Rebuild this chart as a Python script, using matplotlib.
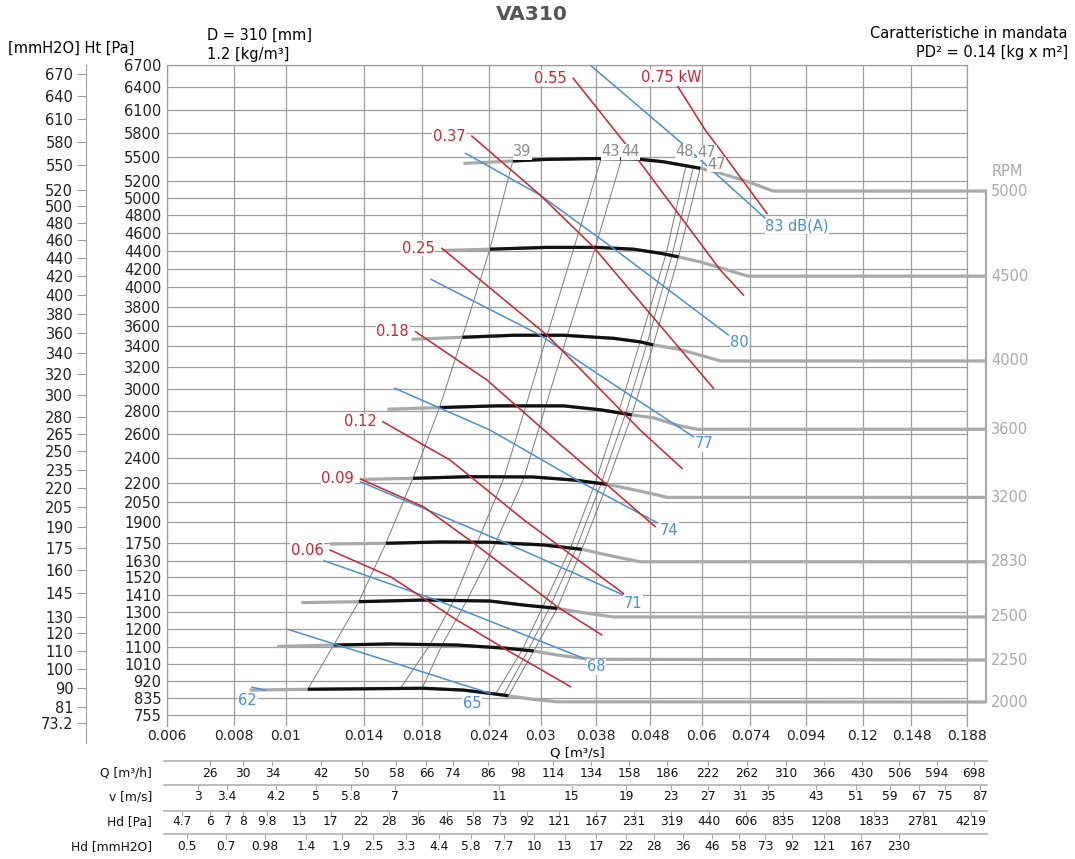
import numpy as np
import matplotlib.pyplot as plt
from matplotlib.ticker import FixedLocator, FixedFormatter, NullLocator
from matplotlib.transforms import blended_transform_factory

plt.rcParams['font.family'] = ['DejaVu Sans']

W, H = 1075, 859

# axis ticks
q_ticks = [0.006, 0.008, 0.01, 0.014, 0.018, 0.024, 0.03, 0.038, 0.048,
           0.06, 0.074, 0.094, 0.12, 0.148, 0.188]
q_tick_labels = ['0.006', '0.008', '0.01', '0.014', '0.018', '0.024', '0.03',
                 '0.038', '0.048', '0.06', '0.074', '0.094', '0.12', '0.148', '0.188']
ht_ticks = [6700, 6400, 6100, 5800, 5500, 5200, 5000, 4800, 4600, 4400, 4200,
            4000, 3800, 3600, 3400, 3200, 3000, 2800, 2600, 2400, 2200, 2050,
            1900, 1750, 1630, 1520, 1410, 1300, 1200, 1100, 1010, 920, 835, 755]
mm_ticks = [670, 640, 610, 580, 550, 520, 500, 480, 460, 440, 420, 400, 380,
            360, 340, 320, 300, 280, 265, 250, 235, 220, 205, 190, 175, 160,
            145, 130, 120, 110, 100, 90, 81, 73.2]

# fan curves: Q [m3/s], Ht [Pa]; black (working) part from index 1 to i_end
q_2000 = [0.00857, 0.0110, 0.0181, 0.0215, 0.0241, 0.0261, 0.0290, 0.0322, 0.204]
h_2000 = [874, 878, 883, 874, 858, 846, 829, 817, 816]
q_2250 = [0.00964, 0.0123, 0.0157, 0.0209, 0.0259, 0.0291, 0.0322, 0.0371, 0.204]
h_2250 = [1103, 1111, 1117, 1111, 1093, 1078, 1056, 1033, 1029]
q_2500 = [0.0107, 0.0137, 0.0181, 0.0241, 0.0279, 0.0322, 0.0356, 0.0410, 0.204]
h_2500 = [1360, 1366, 1376, 1370, 1345, 1325, 1301, 1273, 1273]
q_2830 = [0.0121, 0.0154, 0.0195, 0.0241, 0.0304, 0.0358, 0.0399, 0.0460, 0.204]
h_2830 = [1746, 1751, 1760, 1758, 1739, 1709, 1670, 1624, 1624]
q_3200 = [0.0139, 0.0173, 0.0219, 0.0290, 0.0345, 0.0399, 0.0435, 0.0481, 0.0517, 0.204]
h_3200 = [2227, 2235, 2248, 2246, 2222, 2188, 2157, 2118, 2087, 2087]
q_3600 = [0.0155, 0.0194, 0.0248, 0.0331, 0.0388, 0.0444, 0.0487, 0.0540, 0.0588, 0.204]
h_3600 = [2815, 2830, 2845, 2845, 2810, 2765, 2740, 2675, 2640, 2640]
q_4000 = [0.0172, 0.0214, 0.0267, 0.0331, 0.0410, 0.0460, 0.0487, 0.0547, 0.0596, 0.0650, 0.204]
h_4000 = [3470, 3490, 3510, 3510, 3480, 3445, 3415, 3370, 3315, 3260, 3260]
q_4500 = [0.0196, 0.0241, 0.0308, 0.0382, 0.0447, 0.0502, 0.0543, 0.0596, 0.0650, 0.0733, 0.204]
h_4500 = [4400, 4415, 4435, 4435, 4415, 4370, 4330, 4275, 4210, 4120, 4120]
q_5000 = [0.0215, 0.0266, 0.0308, 0.0382, 0.0454, 0.0509, 0.0596, 0.0650, 0.0730, 0.0816, 0.204]
h_5000 = [5420, 5450, 5470, 5480, 5475, 5440, 5360, 5300, 5200, 5085, 5085]

curves = {2000: (q_2000, h_2000, 5), 2250: (q_2250, h_2250, 5),
          2500: (q_2500, h_2500, 5), 2830: (q_2830, h_2830, 5),
          3200: (q_3200, h_3200, 5), 3600: (q_3600, h_3600, 5),
          4000: (q_4000, h_4000, 6), 4500: (q_4500, h_4500, 6),
          5000: (q_5000, h_5000, 6)}

# efficiency lines
eff_labels = ['39', '43', '44', '48', '47', '47']
eff_q = [[0.0110, 0.0123, 0.0137, 0.0154, 0.0173, 0.0194, 0.0214, 0.0241, 0.0266],
         [0.0164, 0.0186, 0.0206, 0.0228, 0.0256, 0.0281, 0.0308, 0.0346, 0.0389],
         [0.0180, 0.0196, 0.0218, 0.0247, 0.0279, 0.0306, 0.0336, 0.0379, 0.0425],
         [0.0247, 0.0277, 0.0303, 0.0341, 0.0379, 0.0419, 0.0460, 0.0515, 0.0561],
         [0.0256, 0.0284, 0.0312, 0.0349, 0.0389, 0.0432, 0.0474, 0.0528, 0.0579],
         [0.0261, 0.0291, 0.0322, 0.0358, 0.0399, 0.0444, 0.0487, 0.0543, 0.0596]]
eff_h = [[878, 1111, 1366, 1751, 2235, 2832, 3490, 4417, 5453],
         [883, 1111, 1370, 1753, 2238, 2835, 3503, 4428, 5478],
         [883, 1111, 1370, 1753, 2238, 2835, 3503, 4428, 5478],
         [855, 1084, 1339, 1718, 2198, 2782, 3443, 4372, 5400],
         [852, 1081, 1333, 1711, 2194, 2773, 3429, 4350, 5379],
         [846, 1078, 1325, 1709, 2188, 2765, 3415, 4332, 5360]]

# noise lines dB(A)
db_labels = ['62', '65', '68', '71', '74', '77', '80', '83 dB(A)']
db_q = [[0.00865, 0.00916],
        [0.0101, 0.0157, 0.0241],
        [0.0118, 0.0195, 0.0361],
        [0.0138, 0.0259, 0.0428],
        [0.0160, 0.0241, 0.0356, 0.0495],
        [0.0187, 0.0299, 0.0399, 0.0579],
        [0.0217, 0.0299, 0.0410, 0.0673],
        [0.0371, 0.0551, 0.0789]]
db_h = [[888, 874],
        [1200, 1020, 858],
        [1631, 1366, 1038],
        [2208, 1751, 1408],
        [3004, 2634, 2206, 1898],
        [4086, 3512, 3080, 2576],
        [5545, 5038, 4425, 3512],
        [6700, 5670, 4765]]

# absorbed power lines kW
kw_labels = ['0.06', '0.09', '0.12', '0.18', '0.25', '0.37', '0.55', '0.75 kW']
kw_q = [[0.0121, 0.0157, 0.0209, 0.0259, 0.0341],
        [0.0138, 0.0181, 0.0225, 0.0322, 0.0390],
        [0.0152, 0.0203, 0.0279, 0.0428],
        [0.0175, 0.0238, 0.0304, 0.0491],
        [0.0196, 0.0308, 0.0460, 0.0551],
        [0.0223, 0.0299, 0.0376, 0.0631],
        [0.0345, 0.0454, 0.0650, 0.0718],
        [0.0539, 0.0609, 0.0650, 0.0794]]
kw_h = [[1704, 1525, 1255, 1084, 891],
        [2230, 2016, 1751, 1335, 1168],
        [2705, 2382, 1918, 1418],
        [3545, 3080, 2634, 1869],
        [4425, 3512, 2634, 2315],
        [5762, 5038, 4442, 3004],
        [6519, 5483, 4186, 3920],
        [6428, 5839, 5586, 4823]]

# bottom tables
qh_vals = [26, 30, 34, 42, 50, 58, 66, 74, 86, 98, 114, 134, 158, 186, 222,
           262, 310, 366, 430, 506, 594, 698]
v_vals = [3, 3.4, 4.2, 5, 5.8, 7, 11, 15, 19, 23, 27, 31, 35, 43, 51, 59, 67, 75, 87]
hd_pa_vals = [4.7, 6, 7, 8, 9.8, 13, 17, 22, 28, 36, 46, 58, 73, 92, 121, 167,
              231, 319, 440, 606, 835, 1208, 1833, 2781, 4219]
hd_mm_vals = [0.5, 0.7, 0.98, 1.4, 1.9, 2.5, 3.3, 4.4, 5.8, 7.7, 10, 13, 17, 22,
              28, 36, 46, 58, 73, 92, 121, 167, 230]
outlet_area = 1 / 438.0   # m2
rho = 1.2

# colours
GRID = '#9e9e9e'
GRAY = '#a9a9a9'
RED = '#c9252c'
BLUE = '#4d8fd1'
EFF = '#7d7d7d'
FS = 10.5


def fwd(h):
    return np.sqrt(np.clip(h, 0, None))


def inv(s):
    return np.square(s)


fig = plt.figure(figsize=(W / 100, H / 100), dpi=100)
ax = fig.add_axes([167 / W, 1 - 726 / H, 800 / W, 661 / H])
ax.set_xscale('log')
ax.set_yscale('function', functions=(fwd, inv))
ax.set_xlim(0.006, 0.188)
ax.set_ylim(705.4, 6700)
ax.xaxis.set_major_locator(FixedLocator(q_ticks))
ax.xaxis.set_major_formatter(FixedFormatter(q_tick_labels))
ax.xaxis.set_minor_locator(NullLocator())
ax.yaxis.set_major_locator(FixedLocator(ht_ticks))
ax.yaxis.set_major_formatter(FixedFormatter([str(v) for v in ht_ticks]))
ax.yaxis.set_minor_locator(NullLocator())
ax.tick_params(axis='x', length=0, pad=2, labelsize=10, colors='#222222')
ax.tick_params(axis='y', length=0, pad=4, labelsize=FS, colors='#222222')
ax.set_axisbelow(True)
ax.grid(True, color=GRID, lw=0.9)
ax.spines['bottom'].set_visible(False)
for s in ['top', 'left', 'right']:
    ax.spines[s].set_color(GRID)
    ax.spines[s].set_linewidth(0.9)

# left mmH2O axis
axm = ax.twinx()
axm.set_yscale('function', functions=(fwd, inv))
axm.set_ylim(ax.get_ylim())
axm.yaxis.set_ticks_position('left')
axm.yaxis.set_label_position('left')
axm.yaxis.set_major_locator(FixedLocator([m * 9.81 for m in mm_ticks]))
axm.yaxis.set_major_formatter(FixedFormatter([('%g' % m) for m in mm_ticks]))
axm.yaxis.set_minor_locator(NullLocator())
for s in ['top', 'right', 'bottom']:
    axm.spines[s].set_visible(False)
axm.spines['left'].set_position(('outward', 58.5))
axm.spines['left'].set_bounds(632, 6700)
axm.spines['left'].set_color(GRID)
axm.tick_params(axis='y', length=6.5, width=0.8, color=GRID, pad=2.5,
                labelsize=FS, labelcolor='#222222')

# efficiency lines
eff_offsets = [(0, 6.5), (0, 5), (0, 5), (-8, 9.4), (3, 10.2), (5, 2.6)]
for q, h, lab, off in zip(eff_q, eff_h, eff_labels, eff_offsets):
    ax.plot(q, h, color=EFF, lw=0.7, zorder=2)
    ax.annotate(lab, (q[-1], h[-1]), xytext=off, textcoords='offset points',
                ha='left', va='center', fontsize=FS, color='#8a8a8a', zorder=7,
                bbox=dict(fc='white', ec='none', pad=0.2))

# fan curves
for rpm, (q, h, i_end) in curves.items():
    ax.plot(q, h, color=GRAY, lw=2.3, solid_capstyle='butt', zorder=3, clip_on=False)
    ax.plot(q[1:i_end + 1], h[1:i_end + 1], color='#111111', lw=2.3,
            solid_capstyle='butt', zorder=3.5)
    ax.text(0.2087, h[-1], str(rpm), ha='left', va='center', fontsize=FS,
            color=GRAY, clip_on=False)
ax.plot([q_2000[-1], q_5000[-1]], [h_2000[-1], h_5000[-1]], color=GRAY, lw=1.6,
        clip_on=False, zorder=3)
ax.text(0.2087, 5320, 'RPM', ha='left', va='center', fontsize=FS, color=GRAY,
        clip_on=False)

# noise lines
db_offsets = [(-19.4, -7.2), (-19.4, -7), (2.4, -6), (0, -6), (1.7, -5.3),
              (1.2, -4.8), (1.2, -5.5), (0, -5.3)]
for q, h, lab, off in zip(db_q, db_h, db_labels, db_offsets):
    ax.plot(q, h, color=BLUE, lw=1.1, zorder=4)
    ax.annotate(lab, (q[-1], h[-1]), xytext=off, textcoords='offset points',
                ha='left', va='center', fontsize=FS, color=BLUE, zorder=7,
                bbox=dict(fc='white', ec='none', pad=0.4))

# power lines
kw_offsets = [(-4.5, 0), (-4.5, 0), (-4.5, 0), (-4.7, 0), (-5.5, 0), (-4.7, 0),
              (-4.7, 0), (18, 5.5)]
for q, h, lab, off in zip(kw_q, kw_h, kw_labels, kw_offsets):
    ax.plot(q, h, color=RED, lw=1.1, zorder=4.5)
    ax.annotate(lab, (q[0], h[0]), xytext=off, textcoords='offset points',
                ha='right', va='center', fontsize=FS, color=RED, zorder=7,
                bbox=dict(fc='white', ec='none', pad=0.4))

# header texts
fig.text(532 / W, 1 - 15 / H, 'VA310', ha='center', va='center', fontsize=14.5,
         fontweight='bold', color='#555555')
fig.text(207 / W, 1 - 35 / H, 'D = 310 [mm]', ha='left', va='center', fontsize=10.5)
fig.text(207 / W, 1 - 54 / H, '1.2 [kg/m³]', ha='left', va='center', fontsize=10.5)
fig.text(8 / W, 1 - 48 / H, '[mmH2O] Ht [Pa]', ha='left', va='center', fontsize=10.5)
fig.text(1068 / W, 1 - 34 / H, 'Caratteristiche in mandata', ha='right',
         va='center', fontsize=10.5)
fig.text(1068 / W, 1 - 53 / H, 'PD² = 0.14 [kg x m²]', ha='right', va='center',
         fontsize=10.5)
fig.text(577 / W, 1 - 753 / H, 'Q [m³/s]', ha='center', va='center', fontsize=9.5)

# bottom tables
axb = fig.add_axes([167 / W, 0, 800 / W, 103 / H])
axb.set_xscale('log')
axb.set_xlim(0.006, 0.188)
axb.set_ylim(859, 756)
axb.axis('off')
tb = blended_transform_factory(axb.transAxes, axb.transData)

rows = [('Q [m³/h]', np.array(qh_vals) / 3600.0, qh_vals),
        ('v [m/s]', np.array(v_vals) * outlet_area, v_vals),
        ('Hd [Pa]', np.sqrt(np.array(hd_pa_vals) / (0.5 * rho)) * outlet_area, hd_pa_vals),
        ('Hd [mmH2O]', np.sqrt(np.array(hd_mm_vals) * 9.81 / (0.5 * rho)) * outlet_area,
         hd_mm_vals)]
line_y = [761, 785, 811, 834.3]
text_y = [773.3, 796.7, 821.7, 846.7]
for (name, qpos, vals), ly, ty in zip(rows, line_y, text_y):
    axb.plot([-0.004, 1.025], [ly, ly], color=GRAY, lw=1.1, transform=tb,
             clip_on=False)
    axb.vlines(qpos, ly, ly + 4.5, color=GRAY, lw=0.8, clip_on=False)
    for qq, vv in zip(qpos, vals):
        axb.text(qq, ty, '%g' % vv, ha='center', va='center', fontsize=8.8,
                 color='#111111', clip_on=False)
    fig.text(152 / W, 1 - ty / H, name, ha='right', va='center', fontsize=8.8,
             color='#111111')

fig.savefig('out.png', dpi=100)
